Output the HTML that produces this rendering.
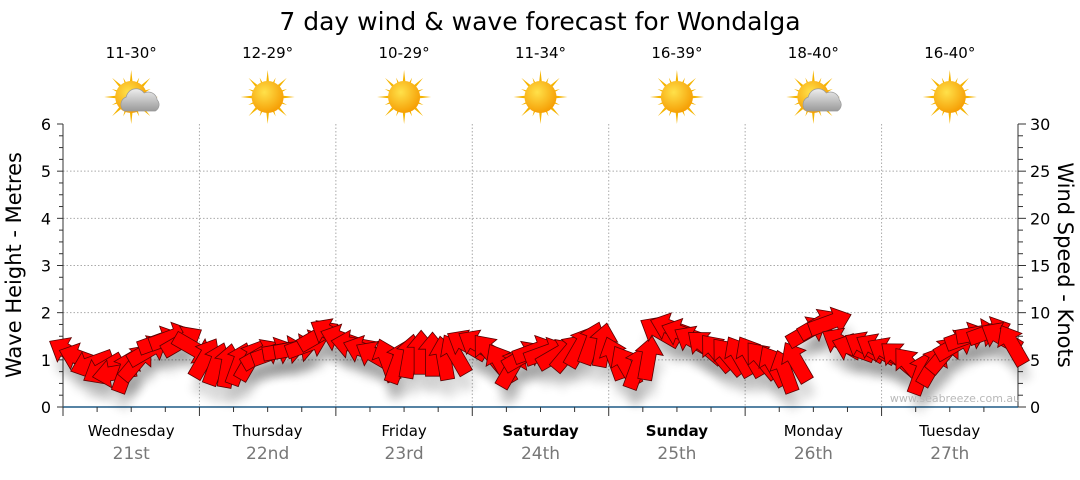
<!DOCTYPE html>
<html><head><meta charset="utf-8"><style>
body{margin:0;background:#fff;font-family:"Liberation Sans","DejaVu Sans",sans-serif}
svg text{font-family:"DejaVu Sans","Liberation Sans",sans-serif}
</style></head><body>
<svg id="c" width="1080" height="475" viewBox="0 0 1080 475">
<defs>
<radialGradient id="sun" cx="0.4" cy="0.35" r="0.7"><stop offset="0" stop-color="#ffe14a"/><stop offset="1" stop-color="#f59a00"/></radialGradient>
<linearGradient id="cloud" x1="0" y1="0" x2="0" y2="1"><stop offset="0" stop-color="#eee"/><stop offset="1" stop-color="#9a9a9a"/></linearGradient>
<filter id="sh" x="-50%" y="-50%" width="200%" height="200%"><feGaussianBlur stdDeviation="5"/></filter>
</defs>
<text x="540" y="30" text-anchor="middle" font-size="25" fill="#000">7 day wind &amp; wave forecast for Wondalga</text>
<g id="grid"></g><g id="axes"></g><g id="icons"></g><g id="shadows"></g><g id="arrows"></g>
<text x="955" y="402" text-anchor="middle" font-size="11" fill="#b8b8b8">www.seabreeze.com.au</text>
<text transform="translate(21,265) rotate(-90)" text-anchor="middle" font-size="21" fill="#000">Wave Height - Metres</text>
<text transform="translate(1058,265) rotate(90)" text-anchor="middle" font-size="21" fill="#000">Wind Speed - Knots</text>
</svg>
<script>
const days=["Wednesday","Thursday","Friday","Saturday","Sunday","Monday","Tuesday"];
const dates=["21st","22nd","23rd","24th","25th","26th","27th"];
const boldDays=[false,false,false,true,true,false,false];
const temps=["11-30°","12-29°","10-29°","11-34°","16-39°","18-40°","16-40°"];
const cloudy=[true,false,false,false,false,true,false];
const waveTicks=[0,1,2,3,4,5,6];
const windTicks=[0,5,10,15,20,25,30];
const windSpeed=[5.8,5.2,4.6,4.0,3.6,3.8,4.8,6.0,7.0,7.4,7.0,6.2,
5.2,4.6,4.4,4.6,5.0,5.6,5.8,6.0,6.2,6.6,7.6,7.8,
7.2,6.6,6.0,5.4,5.0,4.8,5.4,5.8,5.6,5.2,5.6,6.6,
6.6,5.8,4.6,4.2,5.4,6.0,5.8,5.6,5.8,6.4,6.8,6.6,
5.2,4.4,4.2,5.2,8.0,8.4,7.8,7.0,6.4,5.8,5.4,5.4,
5.4,5.0,4.4,3.8,4.8,8.0,8.8,9.0,6.8,6.2,6.4,6.2,
5.8,5.2,4.4,3.6,4.4,5.6,6.6,7.4,7.8,8.0,7.4,6.6];
const windBearing=[300,290,250,240,260,20,40,60,70,70,60,120,
30,20,10,20,30,60,70,80,80,70,60,300,
290,280,290,300,340,20,10,0,0,350,330,300,
300,320,330,30,60,70,70,60,40,30,20,10,
340,330,20,10,300,290,290,300,310,320,320,330,
330,320,330,340,330,60,60,70,300,290,300,300,
300,310,320,20,30,40,60,70,80,70,300,330];
const NS="http://www.w3.org/2000/svg";
const X0=63,X1=1018,Y0=407,Y1=124,DW=(X1-X0)/7;
const xT=h=>X0+h/168*(X1-X0);
const yW=m=>Y0-m/6*(Y0-Y1);
const yK=k=>Y0-k/30*(Y0-Y1);
function mk(tag,attrs,parent,txt){const e=document.createElementNS(NS,tag);for(const k in attrs)e.setAttribute(k,attrs[k]);if(txt!==undefined)e.textContent=txt;parent.appendChild(e);return e;}
const grid=document.getElementById('grid'),axes=document.getElementById('axes'),icons=document.getElementById('icons'),shadows=document.getElementById('shadows'),arrows=document.getElementById('arrows');
waveTicks.forEach(v=>{
 if(v>0&&v<6){const g=mk('line',{x1:X0,x2:X1,y1:yW(v),y2:yW(v),stroke:'#aaa','stroke-dasharray':'1.5,2'},grid);}
 const t=mk('text',{x:X0-12,y:yW(v)+6,'text-anchor':'end','font-size':16,fill:'#000'},axes,String(v));
 
});
for(let i=0;i<=24;i++){const y=Y0-i*(Y0-Y1)/24;mk('line',{x1:X0-(i%4==0?6:4),x2:X0,y1:y,y2:y,stroke:'#333'},axes);mk('line',{x1:X1,x2:X1+(i%4==0?8:5),y1:y,y2:y,stroke:'#333'},axes);}
windTicks.forEach(v=>{const t=mk('text',{x:X1+12,y:yK(v)+6,'font-size':16,fill:'#000'},axes,String(v));});
mk('line',{x1:X0,x2:X0,y1:Y1,y2:Y0,stroke:'#333'},axes);
mk('line',{x1:X1,x2:X1,y1:Y1,y2:Y0,stroke:'#333'},axes);
mk('line',{x1:X0,x2:X1,y1:Y0,y2:Y0,stroke:'#1f5a85','stroke-width':1.5},axes);
for(let d=0;d<7;d++){
 const xs=X0+d*DW,xc=xs+DW/2;
 if(d>0){const g=mk('line',{x1:xs,x2:xs,y1:Y1,y2:Y0,stroke:'#aaa','stroke-dasharray':'1.5,2'},grid);}
 mk('line',{x1:xs,x2:xs,y1:Y0,y2:Y0+9,stroke:'#333'},axes);
 for(let q=1;q<4;q++)mk('line',{x1:xs+q*DW/4,x2:xs+q*DW/4,y1:Y0,y2:Y0+5,stroke:'#333'},axes);
 const dn=mk('text',{x:xc,y:436,'text-anchor':'middle','font-size':15,fill:'#000','font-weight':boldDays[d]?'bold':'normal'},axes,days[d]);
 
 const dt=mk('text',{x:xc,y:459,'text-anchor':'middle','font-size':17,fill:'#777'},axes,dates[d]);
 
 const tt=mk('text',{x:xc,y:58,'text-anchor':'middle','font-size':15,fill:'#000'},icons,temps[d]);
 
 const g=mk('g',{transform:`translate(${xc},97)`},icons);
 
 for(let r=0;r<16;r++){const a=r*22.5,L=r%2?21:27;mk('path',{d:`M-3,0 L0,-${L} L3,0Z`,fill:'#f5b400',transform:`rotate(${a})`},g);}
 mk('circle',{r:16,fill:'url(#sun)'},g);
 if(cloudy[d]){mk('path',{d:'M-7,14 a8,8 0 0 1 2,-14 a10,10 0 0 1 18,-4 a9,9 0 0 1 13,7 a7,7 0 0 1 -2,11 Z',fill:'url(#cloud)',stroke:'#999','stroke-width':0.7},g);}
}
const AP='M-22,-7 L5,-7 L5,-14 L22,0 L5,14 L5,7 L-22,7 Z';
windSpeed.forEach((s,i)=>{
 const x=xT(i*2+1),y=yK(s),rot=windBearing[i]-90;
 const sh=mk('path',{d:AP,fill:'#000',opacity:0.15,filter:'url(#sh)',transform:`translate(${x+3},${y+16}) rotate(${rot})`},shadows);
 
 const a=mk('path',{d:AP,fill:'#ff0000',stroke:'#5a0000','stroke-width':0.8,transform:`translate(${x},${y}) rotate(${rot})`},arrows);
 
});
</script>
</body></html>
